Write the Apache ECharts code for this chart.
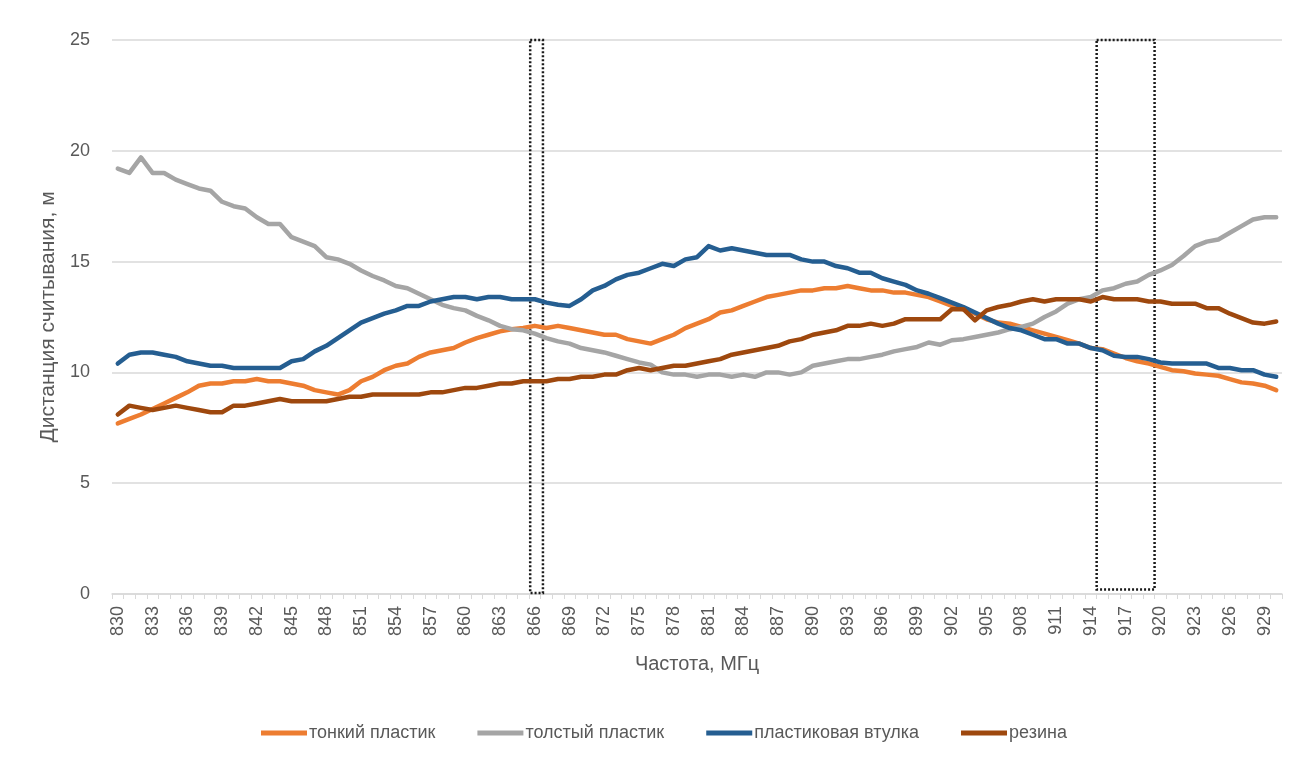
<!DOCTYPE html>
<html>
<head>
<meta charset="utf-8">
<script src="https://cdn.jsdelivr.net/npm/echarts@6/dist/echarts.min.js"></script>
<style>
  html, body { margin: 0; padding: 0; background: #fff; }
  #chart { width: 1294px; height: 760px; }
</style>
</head>
<body>
<div id="chart"></div>
<script>
// частоты, МГц
var freqs = [
  '830','831','832','833','834','835','836','837','838','839',
  '840','841','842','843','844','845','846','847','848','849',
  '850','851','852','853','854','855','856','857','858','859',
  '860','861','862','863','864','865','866','867','868','869',
  '870','871','872','873','874','875','876','877','878','879',
  '880','881','882','883','884','885','886','887','888','889',
  '890','891','892','893','894','895','896','897','898','899',
  '900','901','902','903','904','905','906','907','908','909',
  '910','911','912','913','914','915','916','917','918','919',
  '920','921','922','923','924','925','926','927','928','929','930'
];

var thinPlastic = [
  7.7, 7.9, 8.1, 8.35, 8.6, 8.85, 9.1, 9.4, 9.5, 9.5,
  9.6, 9.6, 9.7, 9.6, 9.6, 9.5, 9.4, 9.2, 9.1, 9.0,
  9.2, 9.6, 9.8, 10.1, 10.3, 10.4, 10.7, 10.9, 11.0, 11.1,
  11.35, 11.55, 11.7, 11.85, 11.95, 12.0, 12.1, 12.0, 12.1, 12.0,
  11.9, 11.8, 11.7, 11.7, 11.5, 11.4, 11.3, 11.5, 11.7, 12.0,
  12.2, 12.4, 12.7, 12.8, 13.0, 13.2, 13.4, 13.5, 13.6, 13.7,
  13.7, 13.8, 13.8, 13.9, 13.8, 13.7, 13.7, 13.6, 13.6, 13.5,
  13.4, 13.2, 13.0, 12.85, 12.65, 12.4, 12.25, 12.2, 12.05, 11.9,
  11.75, 11.6, 11.45, 11.3, 11.1, 11.05, 10.85, 10.65, 10.5, 10.4,
  10.25, 10.1, 10.05, 9.95, 9.9, 9.85, 9.7, 9.55, 9.5, 9.4, 9.2
];

var thickPlastic = [
  19.2, 19.0, 19.7, 19.0, 19.0, 18.7, 18.5, 18.3, 18.2, 17.7,
  17.5, 17.4, 17.0, 16.7, 16.7, 16.1, 15.9, 15.7, 15.2, 15.1,
  14.9, 14.6, 14.35, 14.15, 13.9, 13.8, 13.55, 13.3, 13.05, 12.9,
  12.8, 12.55, 12.35, 12.1, 11.95, 11.9, 11.75, 11.55, 11.4, 11.3,
  11.1, 11.0, 10.9, 10.75, 10.6, 10.45, 10.35, 10.0, 9.9, 9.9,
  9.8, 9.9, 9.9, 9.8, 9.9, 9.8, 10.0, 10.0, 9.9, 10.0,
  10.3, 10.4, 10.5, 10.6, 10.6, 10.7, 10.8, 10.95, 11.05, 11.15,
  11.35, 11.25, 11.45, 11.5, 11.6, 11.7, 11.8, 11.95, 12.05, 12.2,
  12.5, 12.75, 13.1, 13.3, 13.4, 13.7, 13.8, 14.0, 14.1, 14.4,
  14.6, 14.85, 15.25, 15.7, 15.9, 16.0, 16.3, 16.6, 16.9, 17.0, 17.0
];

var plasticSleeve = [
  10.4, 10.8, 10.9, 10.9, 10.8, 10.7, 10.5, 10.4, 10.3, 10.3,
  10.2, 10.2, 10.2, 10.2, 10.2, 10.5, 10.6, 10.95, 11.2, 11.55,
  11.9, 12.25, 12.45, 12.65, 12.8, 13.0, 13.0, 13.2, 13.3, 13.4,
  13.4, 13.3, 13.4, 13.4, 13.3, 13.3, 13.3, 13.15, 13.05, 13.0,
  13.3, 13.7, 13.9, 14.2, 14.4, 14.5, 14.7, 14.9, 14.8, 15.1,
  15.2, 15.7, 15.5, 15.6, 15.5, 15.4, 15.3, 15.3, 15.3, 15.1,
  15.0, 15.0, 14.8, 14.7, 14.5, 14.5, 14.25, 14.1, 13.95, 13.7,
  13.55, 13.35, 13.15, 12.95, 12.7, 12.45, 12.2, 12.0, 11.9, 11.7,
  11.5, 11.5, 11.3, 11.3, 11.1, 11.0, 10.75, 10.7, 10.7, 10.6,
  10.45, 10.4, 10.4, 10.4, 10.4, 10.2, 10.2, 10.1, 10.1, 9.9, 9.8
];

var rubber = [
  8.1, 8.5, 8.4, 8.3, 8.4, 8.5, 8.4, 8.3, 8.2, 8.2,
  8.5, 8.5, 8.6, 8.7, 8.8, 8.7, 8.7, 8.7, 8.7, 8.8,
  8.9, 8.9, 9.0, 9.0, 9.0, 9.0, 9.0, 9.1, 9.1, 9.2,
  9.3, 9.3, 9.4, 9.5, 9.5, 9.6, 9.6, 9.6, 9.7, 9.7,
  9.8, 9.8, 9.9, 9.9, 10.1, 10.2, 10.1, 10.2, 10.3, 10.3,
  10.4, 10.5, 10.6, 10.8, 10.9, 11.0, 11.1, 11.2, 11.4, 11.5,
  11.7, 11.8, 11.9, 12.1, 12.1, 12.2, 12.1, 12.2, 12.4, 12.4,
  12.4, 12.4, 12.85, 12.85, 12.35, 12.8, 12.95, 13.05, 13.2, 13.3,
  13.2, 13.3, 13.3, 13.3, 13.2, 13.4, 13.3, 13.3, 13.3, 13.2,
  13.2, 13.1, 13.1, 13.1, 12.9, 12.9, 12.65, 12.45, 12.25, 12.2, 12.3
];

var yTicks = [0, 5, 10, 15, 20, 25];

// выделенные диапазоны частот: [от, до, верх, низ]
var boxes = [
  [865.6, 866.7, 25, 0.05],
  [914.5, 919.5, 25.1, 0.2]
];

var names = ['тонкий пластик', 'толстый пластик', 'пластиковая втулка', 'резина'];
var colors = ['#ED7D31', '#A5A5A5', '#255E91', '#9E480E'];
var values = [thinPlastic, thickPlastic, plasticSleeve, rubber];

var font = '"Liberation Sans", "Noto Sans", sans-serif';
var grey = '#595959';

var myChart = echarts.init(document.getElementById('chart'));

var series = names.map(function (n, k) {
  return {
    name: n,
    type: 'line',
    data: values[k],
    symbol: 'none',
    showSymbol: false,
    color: colors[k],
    lineStyle: { width: 4.5, color: colors[k], cap: 'round', join: 'round' },
    z: 2 + k
  };
});

// пунктирные рамки
series.push({
  name: 'рамки',
  type: 'line',
  xAxisIndex: 1,
  data: [],
  z: 10,
  silent: true,
  markArea: {
    silent: true,
    itemStyle: {
      color: 'rgba(0,0,0,0)',
      borderColor: '#1a1a1a',
      borderWidth: 2.5,
      borderType: [2, 2]
    },
    data: boxes.map(function (b) {
      return [{ coord: [b[0], b[2]] }, { coord: [b[1], b[3]] }];
    })
  }
});

myChart.setOption({
  animation: false,
  textStyle: { fontFamily: font },
  grid: { left: 112, right: 12, top: 40, bottom: 166 },
  legend: {
    data: names,
    bottom: 13,
    left: 256,
    icon: 'rect',
    itemWidth: 46,
    itemHeight: 5,
    itemGap: 42,
    textStyle: { fontFamily: font, fontSize: 18, color: grey, padding: [0, 0, 0, -3] }
  },
  xAxis: [{
    type: 'category',
    data: freqs,
    boundaryGap: true,
    name: 'Частота, МГц',
    nameLocation: 'middle',
    nameGap: 60,
    nameTextStyle: { fontSize: 20, color: grey, fontFamily: font },
    axisLine: { lineStyle: { color: '#D9D9D9', width: 1.5 } },
    axisTick: { show: true, interval: 0, length: 5, lineStyle: { color: '#D9D9D9' } },
    axisLabel: { interval: 2, rotate: 90, fontSize: 18, color: grey, margin: 12, fontFamily: font },
    splitLine: { show: false }
  }, {
    type: 'value',
    show: false,
    min: 829.5,
    max: 930.5
  }],
  yAxis: {
    type: 'value',
    min: yTicks[0],
    max: yTicks[yTicks.length - 1],
    interval: 5,
    name: 'Дистанция считывания, м',
    nameLocation: 'middle',
    nameGap: 50,
    nameTextStyle: { fontSize: 21, color: grey, fontFamily: font },
    axisLine: { show: false },
    axisTick: { show: false },
    axisLabel: { fontSize: 18, color: grey, margin: 22, fontFamily: font },
    splitLine: { lineStyle: { color: '#D9D9D9', width: 1.5 } }
  },
  series: series
});
</script>
</body>
</html>
